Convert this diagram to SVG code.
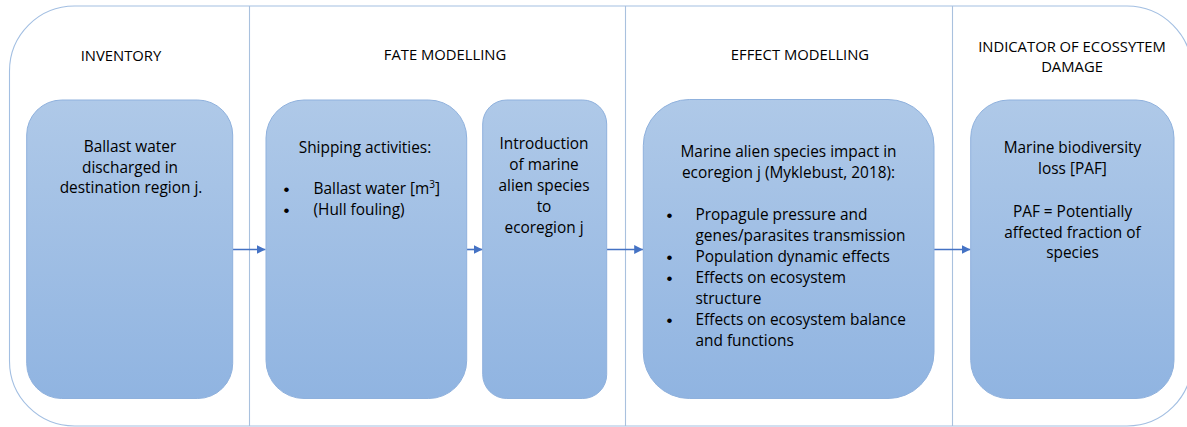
<svg xmlns="http://www.w3.org/2000/svg" width="1187" height="427" viewBox="0 0 1187 427">
  <defs>
    <linearGradient id="boxFill" x1="0" y1="0" x2="0" y2="1">
      <stop offset="0" stop-color="#afc9e8"/>
      <stop offset="1" stop-color="#90b4e1"/>
    </linearGradient>
    <marker id="arrowHead" viewBox="0 0 10 10" refX="10" refY="5" markerWidth="5.5" markerHeight="5.5" markerUnits="strokeWidth" orient="auto">
      <path d="M0,0 L10,5 L0,10 Z" fill="#4472c4"/>
    </marker>
    <style>
      .frame { fill: none; stroke: #a3bfe2; stroke-width: 1.1; }
      .divider { stroke: #a9c1de; stroke-width: 1.1; }
      .box { fill: url(#boxFill); stroke: #8fb1dd; stroke-width: 1; }
      .conn { stroke: #4472c4; stroke-width: 1.6; fill: none; marker-end: url(#arrowHead); }
      text { font-family: "Open Sans", "Liberation Sans", sans-serif; font-size: 15.4px; fill: #000; }
      .c { text-anchor: middle; }
      .hdr { font-size: 14.8px; }
      .dot { font-family: "Liberation Sans", sans-serif; font-size: 17px; }
    </style>
  </defs>

  <!-- outer frame and stage dividers -->
  <g id="frame">
    <rect class="frame" x="9.5" y="6" width="1182.5" height="420" rx="65" ry="65"/>
    <line class="divider" x1="249.5" y1="6" x2="249.5" y2="426"/>
    <line class="divider" x1="625.5" y1="6" x2="625.5" y2="426"/>
    <line class="divider" x1="952.5" y1="6" x2="952.5" y2="426"/>
  </g>

  <!-- stage headings -->
  <g id="headings">
    <text class="c hdr" x="121" y="61">INVENTORY</text>
    <text class="c hdr" x="445" y="60">FATE MODELLING</text>
    <text class="c hdr" x="800" y="60">EFFECT MODELLING</text>
    <text class="c hdr" x="1072" y="52">INDICATOR OF ECOSSYTEM</text>
    <text class="c hdr" x="1072" y="72">DAMAGE</text>
  </g>

  <!-- connectors -->
  <g id="connectors">
    <line class="conn" x1="233" y1="249.5" x2="265.5" y2="249.5"/>
    <line class="conn" x1="467" y1="249.5" x2="482.5" y2="249.5"/>
    <line class="conn" x1="607" y1="249.5" x2="643" y2="249.5"/>
    <line class="conn" x1="934" y1="249.5" x2="970.5" y2="249.5"/>
  </g>

  <g id="inventory">
    <rect class="box" x="26.7" y="100" width="206" height="298.5" rx="35" ry="35"/>
    <text class="c" x="130" y="152">Ballast water</text>
    <text class="c" x="130" y="172.5">discharged in</text>
    <text class="c" x="131" y="193">destination region j.</text>
  </g>

  <g id="shipping">
    <rect class="box" x="266" y="100" width="200.7" height="298.5" rx="38" ry="38"/>
    <text class="c" x="365" y="152.5">Shipping activities:</text>
    <text class="dot" x="283.5" y="194.5">•</text>
    <text x="313.5" y="194">Ballast water [m<tspan font-size="10" dy="-6">3</tspan><tspan dy="6">]</tspan></text>
    <text class="dot" x="283.5" y="215.5">•</text>
    <text x="313.5" y="215">(Hull fouling)</text>
  </g>

  <g id="introduction">
    <rect class="box" x="482.7" y="100" width="124" height="298.5" rx="24" ry="24"/>
    <text class="c" x="544" y="148.5">Introduction</text>
    <text class="c" x="544" y="169.5">of marine</text>
    <text class="c" x="544" y="190.5">alien species</text>
    <text class="c" x="544" y="211.5">to</text>
    <text class="c" x="544" y="232.5">ecoregion j</text>
  </g>

  <g id="effects">
    <rect class="box" x="643.3" y="99.5" width="290.7" height="299" rx="46" ry="46"/>
    <text class="c" x="788.5" y="156.5">Marine alien species impact in</text>
    <text class="c" x="788.5" y="177.5">ecoregion j (Myklebust, 2018):</text>
    <text class="dot" x="666.5" y="220.5">•</text>
    <text x="695.5" y="220">Propagule pressure and</text>
    <text x="695.5" y="241">genes/parasites transmission</text>
    <text class="dot" x="666.5" y="262.5">•</text>
    <text x="695.5" y="262">Population dynamic effects</text>
    <text class="dot" x="666.5" y="283.5">•</text>
    <text x="695.5" y="283">Effects on ecosystem</text>
    <text x="695.5" y="304">structure</text>
    <text class="dot" x="666.5" y="325.5">•</text>
    <text x="695.5" y="325">Effects on ecosystem balance</text>
    <text x="695.5" y="346">and functions</text>
  </g>

  <g id="indicator">
    <rect class="box" x="970.7" y="100" width="203.3" height="298.5" rx="38" ry="38"/>
    <text class="c" x="1072.5" y="152.5">Marine biodiversity</text>
    <text class="c" x="1072.5" y="173.5">loss [PAF]</text>
    <text class="c" x="1072.5" y="216.5">PAF = Potentially</text>
    <text class="c" x="1072.5" y="237.5">affected fraction of</text>
    <text class="c" x="1072.5" y="258">species</text>
  </g>
</svg>
